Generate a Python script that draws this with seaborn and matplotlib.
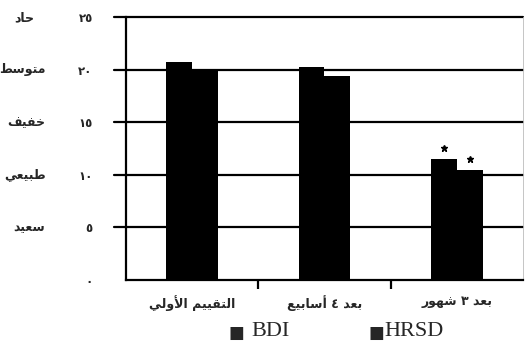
import matplotlib
matplotlib.use("Agg")
import matplotlib.pyplot as plt
import matplotlib.transforms as mtransforms
import numpy as np
import pandas as pd
import seaborn as sns

# ---- data -------------------------------------------------------------
categories = ["التقييم الأولي", "بعد ٤ أسابيع", "بعد ٣ شهور"]
series = ["BDI", "HRSD"]
bdi_values = [20.7, 20.3, 11.5]
hrsd_values = [20.1, 19.4, 10.45]
significant = [False, False, True]
y_ticks = [0, 5, 10, 15, 20, 25]
y_tick_labels = ["٠", "٥", "١٠", "١٥", "٢٠", "٢٥"]
severity_levels = [25, 20, 15, 10, 5]
severity_labels = ["حاد", "متوسط", "خفيف", "طبيعي", "سعيد"]

# ---- minimal Arabic shaping (contextual forms + visual order) ---------
FORMS = {
    "ا": ("\uFE8D", "\uFE8E", None, None),
    "أ": ("\uFE83", "\uFE84", None, None),
    "ب": ("\uFE8F", "\uFE90", "\uFE91", "\uFE92"),
    "ت": ("\uFE95", "\uFE96", "\uFE97", "\uFE98"),
    "ح": ("\uFEA1", "\uFEA2", "\uFEA3", "\uFEA4"),
    "خ": ("\uFEA5", "\uFEA6", "\uFEA7", "\uFEA8"),
    "د": ("\uFEA9", "\uFEAA", None, None),
    "ر": ("\uFEAD", "\uFEAE", None, None),
    "س": ("\uFEB1", "\uFEB2", "\uFEB3", "\uFEB4"),
    "ش": ("\uFEB5", "\uFEB6", "\uFEB7", "\uFEB8"),
    "ط": ("\uFEC1", "\uFEC2", "\uFEC3", "\uFEC4"),
    "ع": ("\uFEC9", "\uFECA", "\uFECB", "\uFECC"),
    "ف": ("\uFED1", "\uFED2", "\uFED3", "\uFED4"),
    "ق": ("\uFED5", "\uFED6", "\uFED7", "\uFED8"),
    "ل": ("\uFEDD", "\uFEDE", "\uFEDF", "\uFEE0"),
    "م": ("\uFEE1", "\uFEE2", "\uFEE3", "\uFEE4"),
    "ه": ("\uFEE9", "\uFEEA", "\uFEEB", "\uFEEC"),
    "و": ("\uFEED", "\uFEEE", None, None),
    "ي": ("\uFEF1", "\uFEF2", "\uFEF3", "\uFEF4"),
}
LAM_ALEF = {"ا": ("\uFEFB", "\uFEFC"), "أ": ("\uFEF7", "\uFEF8")}


def shape(text):
    tokens = []
    i = 0
    while i < len(text):
        c = text[i]
        if c == "ل" and i + 1 < len(text) and text[i + 1] in LAM_ALEF:
            tokens.append(("LA", text[i + 1]))
            i += 2
        else:
            tokens.append(("C", c))
            i += 1

    def is_letter(tok):
        return tok[0] == "LA" or tok[1] in FORMS

    def links_forward(tok):
        return tok[0] == "C" and tok[1] in FORMS and FORMS[tok[1]][2] is not None

    out = []
    for k, tok in enumerate(tokens):
        prev = tokens[k - 1] if k > 0 else None
        nxt = tokens[k + 1] if k + 1 < len(tokens) else None
        joined_prev = prev is not None and links_forward(prev)
        if tok[0] == "LA":
            out.append(LAM_ALEF[tok[1]][1 if joined_prev else 0])
            continue
        c = tok[1]
        if c not in FORMS:
            out.append(c)
            continue
        joined_next = nxt is not None and is_letter(nxt) and links_forward(tok)
        iso, fin, ini, med = FORMS[c]
        if joined_prev and joined_next:
            out.append(med)
        elif joined_prev:
            out.append(fin)
        elif joined_next:
            out.append(ini)
        else:
            out.append(iso)
    return "".join(reversed(out))


# ---- figure -------------------------------------------------------------
sns.set_theme(style="white")
plt.rcParams["font.family"] = ["DejaVu Sans"]

fig = plt.figure(figsize=(5.25, 3.44), dpi=100)
ax = fig.add_axes([126 / 525, 1 - 280 / 344, 397 / 525, (280 - 17.3) / 344])

df = pd.DataFrame({
    "category": categories * 2,
    "series": [series[0]] * 3 + [series[1]] * 3,
    "value": bdi_values + hrsd_values,
})
sns.barplot(data=df, x="category", y="value", hue="series", hue_order=series,
            order=categories, palette=["black", "black"], saturation=1,
            width=0.39, gap=0, legend=False, errorbar=None, ax=ax, zorder=3,
            linewidth=0, edgecolor="black")

ax.set_xlim(-0.5, 2.5)
ax.set_ylim(0, 25)
ax.set_xlabel("")
ax.set_ylabel("")

# horizontal reference lines behind the bars
ax.set_yticks(y_ticks)
ax.set_yticklabels(y_tick_labels, fontsize=8.5, fontweight="bold")
for y in y_ticks[1:]:
    ax.axhline(y, color="black", lw=1.6, zorder=1, xmin=-0.03, clip_on=False)
ax.tick_params(axis="y", length=8, width=1.6, color="black", pad=16)

# category labels, with boundary ticks between groups
ax.set_xticks(range(len(categories)))
ax.set_xticklabels([shape(c) for c in categories], fontsize=9, fontweight="bold")
ax.tick_params(axis="x", which="major", length=0, pad=11)
ax.set_xticks([0.5, 1.5], minor=True)
ax.tick_params(axis="x", which="minor", length=6.5, width=1.6, color="black",
               direction="out", bottom=True)

ax.spines["top"].set_visible(False)
ax.spines["right"].set_color("#bbbbbb")
ax.spines["right"].set_linewidth(0.6)
for side in ["left", "bottom"]:
    ax.spines[side].set_color("black")
    ax.spines[side].set_linewidth(1.6)
    ax.spines[side].set_zorder(4)

# severity labels to the left of the scale (right edges in pixels)
trans = mtransforms.blended_transform_factory(fig.transFigure, ax.transData)
label_right = [34, 46, 45, 46, 45]
for lvl, lab, rx in zip(severity_levels, severity_labels, label_right):
    ax.text(rx / 525, lvl, shape(lab), transform=trans, ha="right", va="center",
            fontsize=9, fontweight="bold", clip_on=False)

# significance markers above the follow-up bars
star_trans = mtransforms.offset_copy(ax.transData, fig=fig, y=11, units="dots")
for container in ax.containers:
    for bar, flag in zip(container, significant):
        if flag:
            ax.plot(bar.get_x() + bar.get_width() / 2, bar.get_height(), marker="*",
                    color="black", markersize=5, transform=star_trans,
                    clip_on=False, zorder=5)

# legend drawn as text below the axis
serif = ["Liberation Serif", "DejaVu Sans"]
fig.text(228 / 525, 1 - 333 / 344, "■", fontsize=12, va="center", ha="left",
         family=["DejaVu Sans"])
fig.text(251 / 525, 1 - 332 / 344, series[0], fontsize=16, va="center", ha="left",
         family=serif)
fig.text(369 / 525, 1 - 333 / 344, "■", fontsize=12, va="center", ha="left",
         family=["DejaVu Sans"])
fig.text(384 / 525, 1 - 332 / 344, series[1], fontsize=16, va="center", ha="left",
         family=serif)

fig.savefig("out.png", dpi=100, facecolor="white")
